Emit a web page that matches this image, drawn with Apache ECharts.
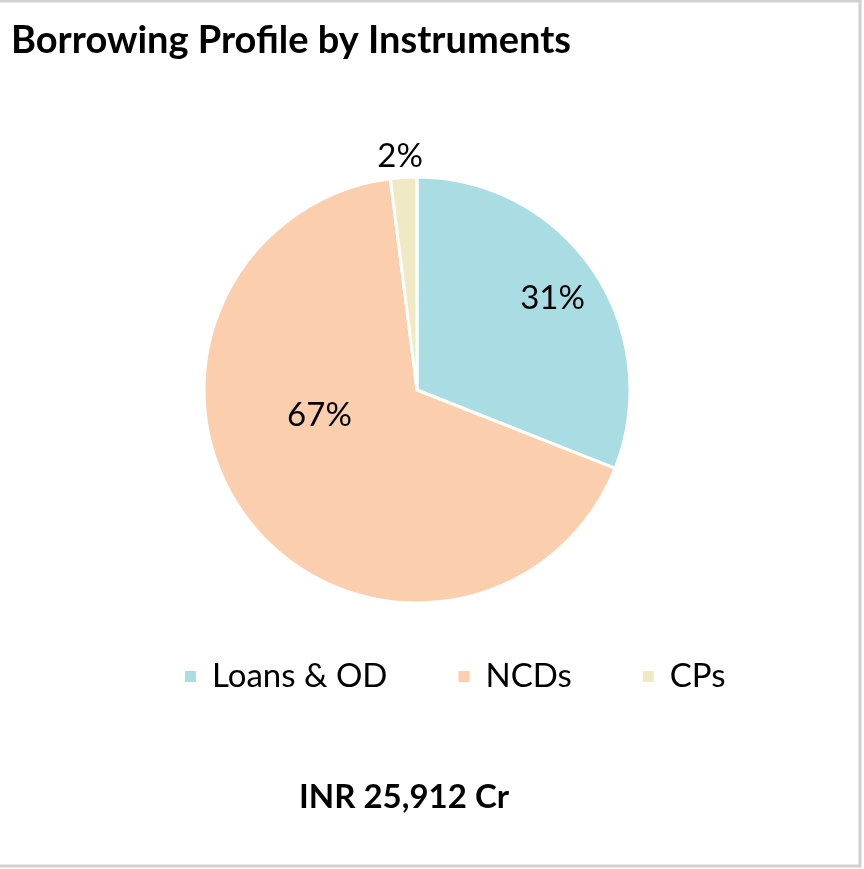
<!DOCTYPE html>
<html>
<head>
<meta charset="utf-8">
<script src="https://cdn.jsdelivr.net/npm/echarts@6/dist/echarts.min.js"></script>
<style>
  html, body { margin: 0; padding: 0; background: #fff; }
  #main { width: 864px; height: 869px; }
</style>
</head>
<body>
<div id="main"></div>
<script>
// borrowing mix, share of total (%)
var categories = ['Loans & OD', 'NCDs', 'CPs'];
var shares = [31, 67, 2];
var colors = ['#aadce3', '#fbcfad', '#efeac4'];
// label nudges from the default inside spot
var labelOffsets = [[45, -30], [-11, -42], [-10, -124]];

var chart = echarts.init(document.getElementById('main'), null, { renderer: 'canvas' });

var font = 'Lato, "Open Sans", sans-serif';

var option = {
    color: colors,
    animation: false,
    title: [{
        text: 'Borrowing Profile by Instruments',
        left: 6,
        top: 17,
        textStyle: { fontFamily: font, fontWeight: 'bold', fontSize: 38, color: '#000' }
    }, {
        text: 'INR 25,912 Cr',
        left: 294,
        top: 776,
        textStyle: { fontFamily: font, fontWeight: 'bold', fontSize: 33, color: '#000' }
    }],
    legend: {
        data: categories,
        top: 655,
        left: 178,
        icon: 'rect',
        itemWidth: 13,
        itemHeight: 13,
        itemGap: 69,
        textStyle: { fontFamily: font, fontSize: 33, color: '#000', padding: [0, 0, 0, 10] }
    },
    graphic: [{
        type: 'rect',
        shape: { x: -3, y: 1, width: 863, height: 865 },
        style: { fill: 'none', stroke: '#d0d0d0', lineWidth: 3 },
        silent: true
    }],
    series: [{
        type: 'pie',
        center: [417, 390],
        radius: [0, 213],
        startAngle: 90,
        clockwise: true,
        itemStyle: { borderColor: '#fff', borderWidth: 3 },
        label: {
            show: true,
            position: 'inside',
            formatter: '{c}%',
            fontFamily: font,
            fontSize: 33,
            color: '#000'
        },
        labelLine: { show: false },
        emphasis: { disabled: true },
        data: categories.map(function (name, i) {
            return { name: name, value: shares[i], label: { offset: labelOffsets[i] } };
        })
    }]
};

chart.setOption(option);
</script>
</body>
</html>
